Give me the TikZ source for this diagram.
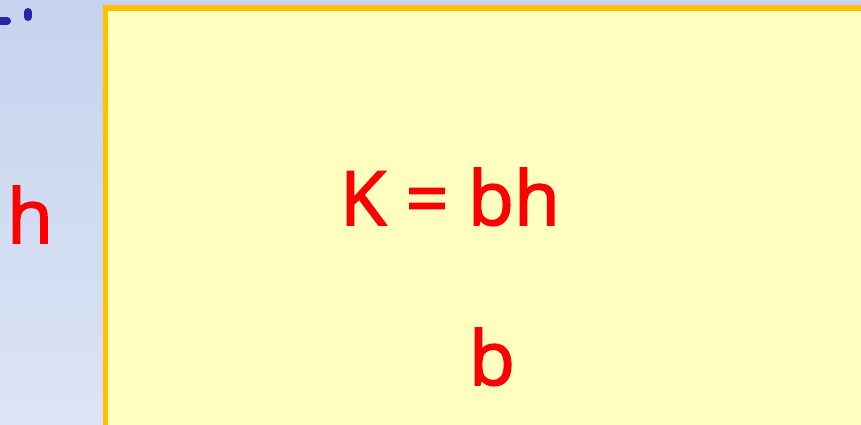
\documentclass[tikz,border=0pt]{standalone}
\usepackage{fontspec}
\setmainfont{Open Sans}
\newfontfamily\lblfont[FakeBold=2.2]{Open Sans}
\definecolor{bgtop}{HTML}{C6D3EE}
\definecolor{bgbot}{HTML}{DCE4F5}
\definecolor{boxfill}{HTML}{FFFFC0}
\definecolor{boxedge}{HTML}{FFC000}
\definecolor{markblue}{HTML}{2A22A8}
\definecolor{txtred}{HTML}{FF0000}
\begin{document}
\begin{tikzpicture}[x=1pt,y=-1pt,
  lbl/.style={text=txtred,font=\lblfont\fontsize{75}{80}\selectfont,anchor=base,inner sep=0pt},
  bluestroke/.style={draw=markblue,line width=8pt,line cap=round}]
\useasboundingbox (0,0) rectangle (861,425);
\shade[top color=bgtop,bottom color=bgbot] (0,0) rectangle (861,425);
\path[fill=boxfill,draw=boxedge,line width=5.5pt] (105.5,8) rectangle (880,440);
\coordinate (m1a) at (1,21);
\coordinate (m1b) at (7,21);
\coordinate (m2a) at (28,12);
\coordinate (m2b) at (28,17);
\draw[bluestroke] (m1a) -- (m1b);
\draw[bluestroke] (m2a) -- (m2b);
\node[lbl] (h) at (30,243) {h};
\node[lbl] (k) at (450,225) {K = bh};
\node[lbl] (b) at (492,385) {b};
\end{tikzpicture}
\end{document}
